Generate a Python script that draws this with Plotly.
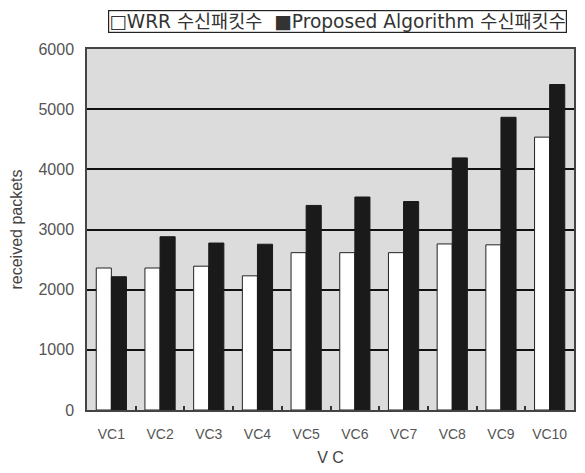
import plotly.graph_objects as go

categories = ["VC1", "VC2", "VC3", "VC4", "VC5", "VC6", "VC7", "VC8", "VC9", "VC10"]
wrr = [2360, 2360, 2390, 2230, 2615, 2615, 2615, 2760, 2745, 4535]
proposed = [2215, 2880, 2775, 2755, 3400, 3540, 3465, 4190, 4865, 5410]
y_ticks = [0, 1000, 2000, 3000, 4000, 5000, 6000]
series_names = ["WRR 수신패킷수", "Proposed Algorithm 수신패킷수"]

font_family = "Liberation Sans, Arial, Noto Sans CJK KR, sans-serif"
legend_family = "DejaVu Sans, Noto Sans CJK KR, sans-serif"

fig = go.Figure()
fig.add_trace(go.Bar(
    x=categories, y=wrr, name=series_names[0],
    marker=dict(color="white", line=dict(color="#222", width=1)),
))
fig.add_trace(go.Bar(
    x=categories, y=proposed, name=series_names[1],
    marker=dict(color="#1a1a1a", line=dict(color="#1a1a1a", width=1)),
))

legend_text = "□" + series_names[0] + "  ■" + series_names[1]
fig.add_annotation(
    text=legend_text, xref="paper", yref="paper",
    x=0.986, xanchor="right", y=1.045, yanchor="bottom",
    showarrow=False, bordercolor="#222", borderwidth=1.2, borderpad=0,
    bgcolor="white", font=dict(size=18.6, color="#333", family=legend_family),
)

fig.update_layout(
    width=585, height=473,
    margin=dict(l=87, r=9, t=49, b=61),
    paper_bgcolor="white",
    plot_bgcolor="#dcdcdc",
    barmode="group",
    bargap=0.38,
    bargroupgap=0,
    font=dict(family=font_family, size=13, color="#444"),
    showlegend=False,
    xaxis=dict(
        title=dict(text="V C", font=dict(size=16, color="#444"), standoff=11),
        showline=True, linecolor="#444", linewidth=1.5, mirror=True,
        ticks="inside", tickson="boundaries", ticklen=4, tickcolor="#333", tickwidth=1.5,
        ticklabelstandoff=10,
        tickfont=dict(size=14, color="#555"),
    ),
    yaxis=dict(
        title=dict(text="received packets", font=dict(size=16, color="#444"), standoff=12),
        range=[0, 6000], tickvals=y_ticks,
        showgrid=True, gridcolor="#111", gridwidth=1.5,
        showline=True, linecolor="#444", linewidth=1.5, mirror=True,
        ticks="", ticklabelstandoff=8, tickfont=dict(size=16, color="#555"),
        zeroline=False,
    ),
)

fig.write_html("out.html", config={"displayModeBar": False},
               post_script="document.body.style.margin='0';")
